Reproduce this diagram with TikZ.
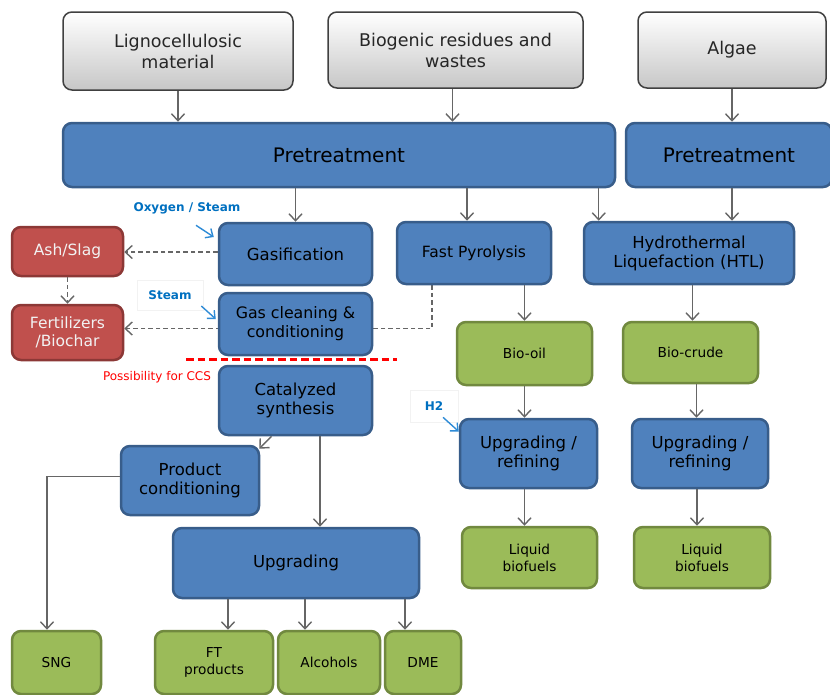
\documentclass[tikz,border=0pt]{standalone}
\usepackage{fontspec}
\setmainfont{DejaVu Sans}
\usetikzlibrary{arrows.meta,backgrounds,calc}
\definecolor{myblue}{HTML}{4F81BD}
\definecolor{myblueD}{HTML}{385D8A}
\definecolor{mygreen}{HTML}{9BBB59}
\definecolor{mygreenD}{HTML}{71893F}
\definecolor{myred}{HTML}{C0504D}
\definecolor{myredD}{HTML}{8C3836}
\definecolor{mygreyD}{HTML}{404040}
\definecolor{arrgrey}{HTML}{666666}
\definecolor{lblblue}{HTML}{0070C0}
\definecolor{arrblue}{HTML}{2E8BD6}
\newcommand{\fs}[2]{\fontsize{#1}{#2}\selectfont}
\tikzset{
  box/.style={rounded corners=9pt, line width=2.5pt, align=center, inner sep=0pt},
  bluebox/.style={box, fill=myblue, draw=myblueD, text=black},
  greenbox/.style={box, fill=mygreen, draw=mygreenD, text=black},
  redbox/.style={box, fill=myred, draw=myredD, text=white!95!black},
  greybox/.style={box, top color=white, bottom color=black!22, draw=mygreyD, line width=1.5pt, text=black!85},
  arr/.style={draw=arrgrey, line width=1.4pt, -{Straight Barb[length=7pt,width=13pt,line width=1.4pt]}},
  darr/.style={arr, dash pattern=on 4.5pt off 3pt},
  barr/.style={draw=arrblue, line width=1.4pt, -{Straight Barb[length=6pt,width=11pt,line width=1.4pt]}},
  lbl/.style={text=lblblue, font=\bfseries\fs{12}{14}},
  faint/.style={draw=black!5, line width=0.6pt, minimum width=48pt, minimum height=32pt},
}
\begin{document}
\begin{tikzpicture}[x=1pt,y=-1pt]
\useasboundingbox (0,0) rectangle (830,694);
% top inputs
\node[greybox, minimum width=230pt, minimum height=78pt, font=\fs{17.5}{21}] (ligno) at (178,51) {Lignocellulosic\\material};
\node[greybox, minimum width=255pt, minimum height=76pt, font=\fs{17.5}{21}] (bio) at (455.5,50) {Biogenic residues and\\wastes};
\node[greybox, minimum width=188pt, minimum height=76pt, font=\fs{17.5}{21}] (algae) at (732,50) {Algae};
% pretreatment
\node[bluebox, minimum width=552pt, minimum height=64pt, font=\fs{20}{24}] (pre1) at (339,155) {Pretreatment};
\node[bluebox, minimum width=206pt, minimum height=64pt, font=\fs{20}{24}] (pre2) at (729,155) {Pretreatment};
% row 2
\node[bluebox, minimum width=153pt, minimum height=62pt, font=\fs{16.5}{19}] (gas) at (295.5,254) {Gasification};
\node[bluebox, minimum width=154pt, minimum height=62pt, font=\fs{15.5}{18}] (fp) at (474,253) {Fast Pyrolysis};
\node[bluebox, minimum width=210pt, minimum height=62pt, font=\fs{16.5}{19}] (htl) at (689,253) {Hydrothermal\\Liquefaction (HTL)};
\node[redbox, minimum width=111pt, minimum height=49pt, font=\fs{15.5}{18}] (ash) at (67.5,251.5) {Ash/Slag};
\node[redbox, minimum width=111pt, minimum height=55pt, font=\fs{15.5}{18}] (fert) at (67.5,332.5) {Fertilizers\\/Biochar};
\node[bluebox, minimum width=153pt, minimum height=62pt, font=\fs{15.8}{19}] (gcc) at (295.5,324) {Gas cleaning \&\\conditioning};
\node[bluebox, minimum width=153pt, minimum height=69pt, font=\fs{16.5}{19}] (cat) at (295.5,400.5) {Catalyzed\\synthesis};
\node[bluebox, minimum width=138pt, minimum height=69pt, font=\fs{16.5}{19}] (prodc) at (190,480.5) {Product\\conditioning};
\node[greenbox, minimum width=135pt, minimum height=63pt, font=\fs{13.7}{17}] (biooil) at (524.5,353.5) {Bio-oil};
\node[greenbox, minimum width=135pt, minimum height=61pt, font=\fs{13.7}{17}] (biocrude) at (690.5,352.5) {Bio-crude};
\node[bluebox, minimum width=137pt, minimum height=69pt, font=\fs{16.5}{19}] (upl) at (528.5,453.5) {Upgrading /\\refining};
\node[bluebox, minimum width=136pt, minimum height=69pt, font=\fs{16.5}{19}] (upr) at (700,453.5) {Upgrading /\\refining};
\node[greenbox, minimum width=135pt, minimum height=61pt, font=\fs{13.7}{17}] (liql) at (529.5,557.5) {Liquid\\biofuels};
\node[greenbox, minimum width=136pt, minimum height=61pt, font=\fs{13.7}{17}] (liqr) at (702,557.5) {Liquid\\biofuels};
\node[bluebox, minimum width=246pt, minimum height=70pt, font=\fs{16.5}{19}] (upg) at (296,563) {Upgrading};
\node[greenbox, minimum width=89pt, minimum height=63pt, font=\fs{13.7}{17}] (sng) at (56.5,662.5) {SNG};
\node[greenbox, minimum width=118pt, minimum height=63pt, font=\fs{13.7}{17}] (ft) at (214,662.5) {FT\\products};
\node[greenbox, minimum width=102pt, minimum height=63pt, font=\fs{13.7}{17}] (alc) at (329,662.5) {Alcohols};
\node[greenbox, minimum width=76pt, minimum height=63pt, font=\fs{13.7}{17}] (dme) at (423,662.5) {DME};
% labels
\node[lbl] (oxy) at (187,208) {Oxygen / Steam};
\node[lbl, faint, minimum width=66pt, minimum height=30pt] (steam) at (170,295) {Steam};
\node[lbl, faint] (htwo) at (434,406) {H2};
\node[text=red, font=\fs{12}{14}] (ccs) at (157,377) {Possibility for CCS};
\coordinate (ccsA) at (186,359);
\coordinate (ccsB) at (397,359);
\draw[red, line width=3pt, dash pattern=on 7.5pt off 4pt] (ccsA) -- (ccsB);
% solid arrows
\draw[arr] (ligno.south) -- (ligno.south |- pre1.north);
\draw[arr] ([xshift=-3pt]bio.south) -- ([xshift=-3pt]bio.south |- pre1.north);
\draw[arr] (algae.south) -- (algae.south |- pre2.north);
\draw[arr] (gas.north |- pre1.south) -- (gas.north);
\draw[arr] ([xshift=-7pt]fp.north |- pre1.south) -- ([xshift=-7pt]fp.north);
\draw[arr] ([xshift=16pt]htl.north west |- pre1.south) -- ([xshift=16pt]htl.north west);
\draw[arr] (algae.south |- pre2.south) -- (algae.south |- htl.north);
\draw[arr] (biooil.north |- fp.south) -- (biooil.north);
\draw[arr] ([xshift=2pt]biocrude.north |- htl.south) -- ([xshift=2pt]biocrude.north);
\draw[arr] (biooil.south) -- (biooil.south |- upl.north);
\draw[arr] ([xshift=6pt]biocrude.south) -- ([xshift=6pt]biocrude.south |- upr.north);
\draw[arr] ([xshift=-4pt]upl.south) -- ([xshift=-4pt]upl.south |- liql.north);
\draw[arr] ([xshift=-3pt]upr.south) -- ([xshift=-3pt]upr.south |- liqr.north);
\draw[arr] ([xshift=-24pt]cat.south) -- ([shift={(-1pt,-4pt)}]prodc.north east);
\draw[arr] ([xshift=24.5pt]cat.south) -- ([xshift=24.5pt]cat.south |- upg.north);
\draw[arr] ([yshift=4pt]prodc.west) -| ([xshift=-9.5pt]sng.north);
\draw[arr] ([xshift=-68pt]upg.south) -- ([xshift=-68pt]upg.south |- ft.north);
\draw[arr] ([xshift=9pt]upg.south) -- ([xshift=9pt]upg.south |- alc.north);
\draw[arr] ([xshift=109pt]upg.south) -- ([xshift=109pt]upg.south |- dme.north);
% dashed arrows
\begin{pgfonlayer}{background}
\draw[darr] ([xshift=-42pt]fp.south) |- ([yshift=4pt]fert.east);
\end{pgfonlayer}
\draw[darr] ([yshift=2pt]gas.west) -- ([yshift=2pt]gas.west -| ash.east);
\draw[darr] (ash.south) -- (fert.north);
% blue input arrows
\draw[barr] ([shift={(9pt,-8pt)}]oxy.south) -- ([shift={(-4pt,17pt)}]gas.west);
\draw[barr] ([shift={(-2pt,-11pt)}]steam.east) -- ([shift={(-2pt,5pt)}]gcc.west);
\draw[barr] ([shift={(9pt,5pt)}]htwo.south) -- ([yshift=22pt]upl.west);
\end{tikzpicture}
\end{document}
